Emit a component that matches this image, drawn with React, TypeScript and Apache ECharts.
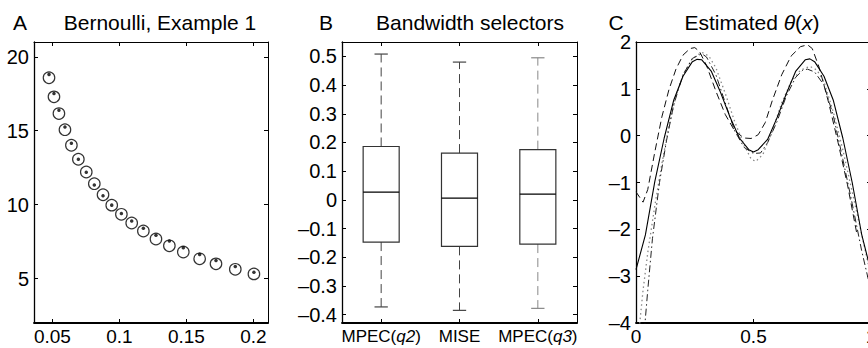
import React, { useEffect, useRef } from "react";
import * as echarts from "echarts";

const FONT = '"Liberation Sans", Arial, Helvetica, sans-serif';

// Panel A: Bernoulli, Example 1
const bandwidths = [0.0475, 0.0512, 0.0549, 0.0594, 0.0642, 0.0694, 0.0753, 0.0813, 0.0878, 0.0943, 0.1015, 0.1092, 0.1179, 0.1273, 0.1373, 0.1477, 0.1599, 0.1721, 0.1865, 0.2004];
const circleValues = [18.58, 17.29, 16.16, 15.07, 14.02, 13.07, 12.21, 11.42, 10.67, 9.97, 9.35, 8.76, 8.22, 7.68, 7.22, 6.8, 6.34, 6.0, 5.63, 5.32];
const dotValues = [18.81, 17.52, 16.38, 15.25, 14.16, 13.07, 12.19, 11.33, 10.6, 9.97, 9.4, 8.9, 8.4, 7.93, 7.54, 7.09, 6.64, 6.23, 5.82, 5.43];
const aXTicks = [0.05, 0.1, 0.15, 0.2];
const aYTicks = [5, 10, 15, 20];

// Panel B: Bandwidth selectors
const boxCategories = ["MPEC(q2)", "MISE", "MPEC(q3)"];
const whiskerLow = [-0.373, -0.385, -0.378];
const quart1 = [-0.147, -0.162, -0.154];
const medians = [0.027, 0.006, 0.02];
const quart3 = [0.186, 0.163, 0.175];
const whiskerHigh = [0.508, 0.48, 0.495];
const bYTicks = [-0.4, -0.3, -0.2, -0.1, 0, 0.1, 0.2, 0.3, 0.4, 0.5];

// Panel C: Estimated theta(x)
const trueX = [0, 0.04, 0.08, 0.12, 0.16, 0.2, 0.24, 0.26, 0.28, 0.32, 0.36, 0.4, 0.44, 0.48, 0.5, 0.52, 0.56, 0.6, 0.64, 0.68, 0.72, 0.74, 0.76, 0.8, 0.84, 0.88, 0.92, 0.96, 1.0];
const trueY = [-2.86, -2.12, -0.98, -0.05, 0.75, 1.27, 1.58, 1.63, 1.62, 1.38, 0.92, 0.4, -0.05, -0.3, -0.35, -0.3, -0.08, 0.38, 0.9, 1.38, 1.62, 1.64, 1.58, 1.27, 0.75, -0.05, -1.0, -2.1, -2.9];
const dashX = [0, 0.03, 0.05, 0.08, 0.11, 0.14, 0.17, 0.2, 0.23, 0.25, 0.27, 0.3, 0.34, 0.38, 0.42, 0.46, 0.49, 0.52, 0.55, 0.58, 0.62, 0.66, 0.7, 0.73, 0.75, 0.78, 0.82, 0.86, 0.9, 0.94];
const dashY = [-1.2, -1.42, -1.15, -0.35, 0.4, 0.98, 1.42, 1.72, 1.86, 1.88, 1.8, 1.5, 0.95, 0.45, 0.1, -0.05, -0.06, 0.02, 0.28, 0.75, 1.3, 1.7, 1.9, 1.94, 1.86, 1.45, 0.7, -0.15, -1.05, -2.1];
const dashDotX = [0, 0.03, 0.05, 0.07, 0.1, 0.13, 0.16, 0.2, 0.24, 0.28, 0.3, 0.34, 0.38, 0.42, 0.46, 0.5, 0.53, 0.56, 0.6, 0.64, 0.68, 0.71, 0.73, 0.76, 0.8, 0.84, 0.88, 0.92, 0.96, 0.99];
const dashDotY = [-6.0, -4.5, -3.3, -2.2, -1.0, -0.1, 0.65, 1.3, 1.65, 1.75, 1.68, 1.3, 0.7, 0.1, -0.25, -0.38, -0.37, -0.15, 0.3, 0.85, 1.25, 1.4, 1.42, 1.36, 1.08, 0.42, -0.5, -1.45, -2.45, -3.1];
const dotX = [0.01, 0.03, 0.05, 0.08, 0.11, 0.14, 0.17, 0.2, 0.24, 0.28, 0.31, 0.34, 0.38, 0.42, 0.46, 0.49, 0.51, 0.54, 0.58, 0.62, 0.66, 0.7, 0.74, 0.77, 0.8, 0.84, 0.88, 0.92, 0.96, 1.0];
const dotY = [-4.3, -3.3, -2.5, -1.5, -0.6, 0.2, 0.85, 1.3, 1.65, 1.78, 1.7, 1.45, 0.9, 0.3, -0.2, -0.5, -0.55, -0.4, 0.1, 0.7, 1.15, 1.4, 1.48, 1.4, 1.15, 0.5, -0.3, -1.2, -2.1, -3.0];

const minus = (v: number) => (v < 0 ? "\u2013" + String(Math.abs(v)) : String(v));

const TICK_FS = 20;
const TITLE_FS = 21;
const labelStyle = { color: "#000", fontSize: TICK_FS, fontFamily: FONT };
const axisLineStyle = (w: number) => ({ show: true, lineStyle: { color: "#000", width: w } });

function valueAxis(grid: number, pos: string, min: number, max: number, ticks: number[] | null, interval: number | null, showLabel: boolean, lineW: number, extra: any = {}) {
  const ax: any = {
    type: "value",
    gridIndex: grid,
    position: pos,
    min,
    max,
    splitLine: { show: false },
    axisLine: { ...axisLineStyle(lineW), onZero: false },
    axisTick: { show: true, inside: true, length: 4, lineStyle: { color: "#000", width: 1 } },
    axisLabel: { show: showLabel, hideOverlap: false, ...labelStyle, ...extra },
  };
  if (ticks) {
    ax.axisTick.customValues = ticks;
    ax.axisLabel.customValues = ticks;
  }
  if (interval != null) ax.interval = interval;
  return ax;
}

export default function App() {
  const ref = useRef<HTMLDivElement>(null);
  useEffect(() => {
    if (!ref.current) return;
    const chart = echarts.init(ref.current, null, { renderer: "svg" });
    const boxData = boxCategories.map((_, i) => [i, whiskerLow[i], quart1[i], medians[i], quart3[i], whiskerHigh[i]]);
    const titleText = (x: number, text: string) => ({
      type: "text",
      x,
      y: 22,
      style: { text, fontSize: TITLE_FS, fontFamily: FONT, fill: "#000", align: "center", verticalAlign: "middle" },
    });
    const xLab = { margin: 4, fontSize: 19, lineHeight: 19 };
    const option: any = {
      animation: false,
      backgroundColor: "#fff",
      grid: [
        { left: 34, top: 42, width: 234, height: 281, containLabel: false, outerBoundsMode: "none" },
        { left: 342, top: 42, width: 235, height: 281, containLabel: false, outerBoundsMode: "none" },
        { left: 636, top: 42, width: 235, height: 281, containLabel: false, outerBoundsMode: "none" },
      ],
      xAxis: [
        valueAxis(0, "bottom", 0.0363, 0.2109, aXTicks, null, true, 1.8, { ...xLab, formatter: (v: number) => String(v) }),
        valueAxis(0, "top", 0.0363, 0.2109, aXTicks, null, false, 1),
        {
          type: "category",
          gridIndex: 1,
          position: "bottom",
          data: boxCategories,
          axisLine: { ...axisLineStyle(1.8), onZero: false },
          axisTick: { show: true, inside: true, length: 4, alignWithLabel: true, lineStyle: { color: "#000" } },
          axisLabel: {
            margin: 5,
            interval: 0,
            hideOverlap: false,
            formatter: (v: string) => {
              const m = v.match(/^(.*)\((.*)\)$/);
              return m ? `{n|${m[1]}(}{i|${m[2]}}{n|)}` : `{n|${v}}`;
            },
            rich: {
              n: { color: "#000", fontSize: 17, fontFamily: FONT, lineHeight: 17 },
              i: { color: "#000", fontSize: 17, fontFamily: FONT, fontStyle: "italic", lineHeight: 17 },
            },
          },
        },
        {
          type: "category",
          gridIndex: 1,
          position: "top",
          data: boxCategories,
          axisLine: { ...axisLineStyle(1), onZero: false },
          axisTick: { show: true, inside: true, length: 4, alignWithLabel: true, lineStyle: { color: "#000" } },
          axisLabel: { show: false },
        },
        valueAxis(2, "bottom", 0, 1, null, 0.5, true, 1.8, { ...xLab }),
        valueAxis(2, "top", 0, 1, null, 0.5, false, 1),
      ],
      yAxis: [
        valueAxis(0, "left", 2, 21, aYTicks, null, true, 1.3, { margin: 5 }),
        valueAxis(0, "right", 2, 21, aYTicks, null, false, 1),
        valueAxis(1, "left", -0.429, 0.55, bYTicks, null, true, 1.3, { margin: 5, formatter: minus }),
        valueAxis(1, "right", -0.429, 0.55, bYTicks, null, false, 1),
        valueAxis(2, "left", -4, 2, null, 1, true, 1.3, { margin: 5, formatter: minus }),
        valueAxis(2, "right", -4, 2, null, 1, false, 1),
      ],
      graphic: [
        titleText(20, "A"),
        titleText(160, "Bernoulli, Example 1"),
        titleText(326, "B"),
        titleText(470, "Bandwidth selectors"),
        titleText(616, "C"),
        {
          type: "text",
          x: 752,
          y: 22,
          style: {
            text: "{n|Estimated }{i|θ}{n|(}{i|x}{n|)}",
            align: "center",
            verticalAlign: "middle",
            rich: {
              n: { fontSize: TITLE_FS, fontFamily: FONT, fill: "#000" },
              i: { fontSize: TITLE_FS, fontFamily: FONT, fill: "#000", fontStyle: "italic" },
            },
          },
        },
      ],
      series: [
        {
          type: "scatter",
          xAxisIndex: 0,
          yAxisIndex: 0,
          symbol: "circle",
          symbolSize: 11.5,
          itemStyle: { color: "rgba(0,0,0,0)", borderColor: "#000", borderWidth: 1.2 },
          data: bandwidths.map((x, i) => [x, circleValues[i]]),
        },
        {
          type: "scatter",
          xAxisIndex: 0,
          yAxisIndex: 0,
          symbol: "circle",
          symbolSize: 3.5,
          itemStyle: { color: "#000" },
          data: bandwidths.map((x, i) => [x, dotValues[i]]),
        },
        {
          type: "custom",
          xAxisIndex: 2,
          yAxisIndex: 2,
          encode: { x: 0, y: [1, 2, 3, 4, 5] },
          data: boxData,
          renderItem: (params: any, api: any) => {
            const i = api.value(0);
            const lo = api.coord([i, api.value(1)]);
            const q1 = api.coord([i, api.value(2)]);
            const md = api.coord([i, api.value(3)]);
            const q3 = api.coord([i, api.value(4)]);
            const hi = api.coord([i, api.value(5)]);
            const band = api.size([1, 0])[0];
            const bw = band * 0.46;
            const cw = band * 0.17;
            const cx = md[0];
            const wc = i === 2 ? "#888" : "#444";
            const boxC = "#333";
            return {
              type: "group",
              children: [
                { type: "line", shape: { x1: cx, y1: q3[1], x2: cx, y2: hi[1] }, style: { stroke: wc, lineWidth: 1, lineDash: [9, 5] } },
                { type: "line", shape: { x1: cx, y1: q1[1], x2: cx, y2: lo[1] }, style: { stroke: wc, lineWidth: 1, lineDash: [9, 5] } },
                { type: "line", shape: { x1: cx - cw / 2, y1: hi[1], x2: cx + cw / 2, y2: hi[1] }, style: { stroke: wc, lineWidth: 1.2 } },
                { type: "line", shape: { x1: cx - cw / 2, y1: lo[1], x2: cx + cw / 2, y2: lo[1] }, style: { stroke: wc, lineWidth: 1.2 } },
                { type: "rect", shape: { x: cx - bw / 2, y: q3[1], width: bw, height: q1[1] - q3[1] }, style: { fill: "none", stroke: boxC, lineWidth: 1.2 } },
                { type: "line", shape: { x1: cx - bw / 2, y1: md[1], x2: cx + bw / 2, y2: md[1] }, style: { stroke: "#000", lineWidth: 1.2 } },
              ],
            };
          },
        },
        {
          type: "line",
          xAxisIndex: 4,
          yAxisIndex: 4,
          showSymbol: false,
          clip: true,
          lineStyle: { color: "#888", width: 1.3, type: [1.5, 3] },
          data: dotX.map((x, i) => [x, dotY[i]]),
        },
        {
          type: "line",
          xAxisIndex: 4,
          yAxisIndex: 4,
          showSymbol: false,
          clip: true,
          lineStyle: { color: "#222", width: 1, type: [7, 3, 1.5, 3] },
          data: dashDotX.map((x, i) => [x, dashDotY[i]]),
        },
        {
          type: "line",
          xAxisIndex: 4,
          yAxisIndex: 4,
          showSymbol: false,
          clip: true,
          lineStyle: { color: "#111", width: 1, type: [7, 4] },
          data: dashX.map((x, i) => [x, dashY[i]]),
        },
        {
          type: "line",
          xAxisIndex: 4,
          yAxisIndex: 4,
          showSymbol: false,
          clip: true,
          lineStyle: { color: "#000", width: 1.1, type: "solid" },
          data: trueX.map((x, i) => [x, trueY[i]]),
        },
      ],
    };
    chart.setOption(option);
    return () => chart.dispose();
  }, []);
  return <div ref={ref} style={{ position: "absolute", left: 0, top: 0, width: 868, height: 348 }} />;
}
